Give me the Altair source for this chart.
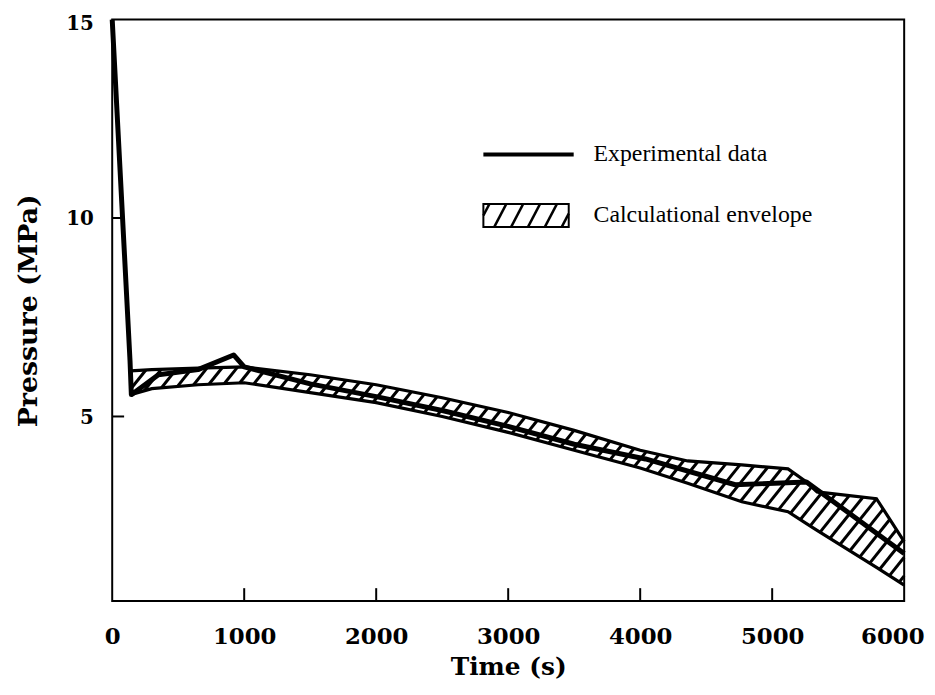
import altair as alt
import numpy as np
import pandas as pd

# ---- data ----
exp_t = [0, 135, 145, 350, 650, 920, 1000, 1500, 2000, 2500, 3000, 3500, 4040, 4720, 5260, 6000]
exp_p = [15.0, 6.4, 5.55, 6.05, 6.18, 6.55, 6.25, 5.82, 5.5, 5.15, 4.75, 4.3, 3.93, 3.28, 3.35, 1.55]

env_t = [140, 300, 650, 1000, 1500, 2000, 2500, 3000, 3500, 4000, 4360, 4770, 5120, 5260, 5340, 5790, 6000]
env_upper = [6.15, 6.18, 6.22, 6.25, 6.05, 5.8, 5.47, 5.1, 4.65, 4.15, 3.88, 3.78, 3.68, 3.35, 3.1, 2.93, 1.85]
env_lower = [5.55, 5.7, 5.8, 5.85, 5.6, 5.35, 5.0, 4.6, 4.15, 3.7, 3.32, 2.85, 2.6, 2.3, 2.13, 1.2, 0.75]

x_ticks = [0, 1000, 2000, 3000, 4000, 5000, 6000]
y_ticks = [5, 10, 15]
x_inner_ticks = [1000, 2000, 3000, 4000, 5000]
y_inner_ticks = [5, 10]

W, H = 798, 586
XDOM = [0, 6000]
YDOM = [0.35, 15]

# ---- hatch segments clipped to the envelope ----
t_per_px = (XDOM[1] - XDOM[0]) / W
p_per_px = (YDOM[1] - YDOM[0]) / H
slope = 1.25 * p_per_px / t_per_px
spacing = 15 * t_per_px
fine = np.linspace(env_t[0], env_t[-1], 6000)
up_f = np.interp(fine, env_t, env_upper)
lo_f = np.interp(fine, env_t, env_lower)
cmin = (lo_f - slope * fine).min()
cmax = (up_f - slope * fine).max()
segs = []
for c in np.arange(cmin + spacing * slope * 0.5, cmax, spacing * slope):
    line = c + slope * fine
    inside = (line >= lo_f) & (line <= up_f)
    edges = np.flatnonzero(np.diff(np.concatenate([[0], inside.astype(int), [0]])))
    for a, b in zip(edges[::2], edges[1::2]):
        segs.append(dict(t=fine[a], p=line[a], t2=fine[b - 1], p2=line[b - 1]))
hatch_df = pd.DataFrame(segs)

exp_df = pd.DataFrame({"t": exp_t, "p": exp_p})
up_df = pd.DataFrame({"t": env_t, "p": env_upper})
lo_df = pd.DataFrame({"t": env_t, "p": env_lower})
cap_df = pd.DataFrame({"t": [env_t[0]], "p": [env_upper[0]], "p2": [env_lower[0]]})
xt_df = pd.DataFrame({"t": x_inner_ticks})
yt_df = pd.DataFrame({"p": y_inner_ticks})
one = pd.DataFrame({"a": [0]})

xscale = alt.Scale(domain=XDOM, nice=False, zero=False)
yscale = alt.Scale(domain=YDOM, nice=False, zero=False)

xaxis = alt.Axis(
    title="Time (s)", values=x_ticks, format="d", ticks=False, domain=False, grid=False,
    labelFlush=False, labelPadding=25, labelFont="DejaVu Serif", labelFontWeight="bold",
    labelFontSize=23, labelColor="black",
    labelOffset={"condition": {"test": "datum.value === 6000", "value": -12}, "value": 0},
    titleFont="DejaVu Serif", titleFontWeight="bold", titleFontSize=25, titleColor="black",
    titleY=66, titleBaseline="middle",
)
yaxis = alt.Axis(
    title="Pressure (MPa)", values=y_ticks, ticks=False, domain=False, grid=False,
    labelFlush=False, labelPadding=19, labelFont="DejaVu Serif", labelFontWeight="bold",
    labelFontSize=20, labelColor="black",
    labelOffset={"condition": {"test": "datum.value === 15", "value": 4}, "value": 1},
    titleFont="DejaVu Serif", titleFontWeight="bold", titleFontSize=27, titleColor="black",
    titleX=-84, titleY=H / 2, titleAngle=-90, titleAlign="center", titleBaseline="middle",
)

X = alt.X("t:Q", scale=xscale, axis=xaxis)
Y = alt.Y("p:Q", scale=yscale, axis=yaxis)

hatch = alt.Chart(hatch_df).mark_rule(color="black", strokeWidth=3).encode(
    x=X, y=Y, x2="t2:Q", y2="p2:Q")
upper = alt.Chart(up_df).mark_line(color="black", strokeWidth=3.2).encode(x=X, y=Y)
lower = alt.Chart(lo_df).mark_line(color="black", strokeWidth=3.2).encode(x=X, y=Y)
cap = alt.Chart(cap_df).mark_rule(color="black", strokeWidth=3).encode(x=X, y=Y, y2="p2:Q")
exp_line = alt.Chart(exp_df).mark_line(color="black", strokeWidth=5, strokeJoin="round").encode(x=X, y=Y)

xt = alt.Chart(xt_df).mark_rule(color="black", strokeWidth=2).encode(
    x=X, y=alt.value(H), y2=alt.value(H - 13))
yt = alt.Chart(yt_df).mark_rule(color="black", strokeWidth=2).encode(
    y=Y, x=alt.value(0), x2=alt.value(12))

# ---- manual legend ----
leg_line = alt.Chart(one).mark_rule(color="black", strokeWidth=4).encode(
    x=alt.value(374), x2=alt.value(465), y=alt.value(136))
leg_box = alt.Chart(one).mark_rect(fill="white", stroke="black", strokeWidth=2).encode(
    x=alt.value(374), x2=alt.value(460), y=alt.value(186), y2=alt.value(209))
bx0, bx1, by0, by1 = 374, 460, 186, 209
leg_hatch = []
for xb in range(368, 470, 17):
    x_a, y_a = xb, by1
    x_b, y_b = xb + 12, by0
    k = (by1 - by0) / 12.0
    if x_a < bx0:
        y_a = by1 - (bx0 - x_a) * k
        x_a = bx0
    if x_b > bx1:
        y_b = by1 - (bx1 - xb) * k
        x_b = bx1
    if x_a >= bx1:
        continue
    leg_hatch.append(alt.Chart(one).mark_rule(color="black", strokeWidth=2.5).encode(
        x=alt.value(x_a), x2=alt.value(x_b), y=alt.value(y_a), y2=alt.value(y_b)))
txt1 = alt.Chart(one).mark_text(align="left", baseline="middle", font="Liberation Serif",
                                fontSize=24, color="black").encode(
    x=alt.value(485), y=alt.value(136), text=alt.value("Experimental data"))
txt2 = alt.Chart(one).mark_text(align="left", baseline="middle", font="Liberation Serif",
                                fontSize=24, color="black").encode(
    x=alt.value(485), y=alt.value(197), text=alt.value("Calculational envelope"))

chart = alt.layer(
    hatch, upper, lower, cap, exp_line, xt, yt,
    leg_box, *leg_hatch, leg_line, txt1, txt2,
).properties(
    width=W, height=H,
    autosize="none",
    padding={"left": 105, "top": 9, "right": 23, "bottom": 84},
    background="white",
).configure_view(stroke="black", strokeWidth=2)

chart.save("out.html", embed_options={"renderer": "svg", "actions": False})
